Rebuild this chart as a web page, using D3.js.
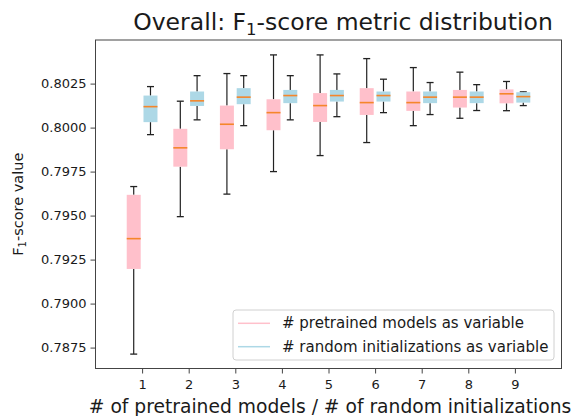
<!DOCTYPE html>
<html>
<head>
<meta charset="utf-8">
<script src="https://cdn.jsdelivr.net/npm/d3@7"></script>
<style>
  body { margin: 0; background: #fff; }
  text { font-family: "DejaVu Sans", sans-serif; fill: #1a1a1a; }
</style>
</head>
<body>
<script>
// number of pretrained models / random initializations
var positions = [1, 2, 3, 4, 5, 6, 7, 8, 9];

// # pretrained models as variable (pink)
var pinkLow  = [0.78713, 0.79494, 0.79622, 0.79750, 0.79841, 0.79915, 0.80011, 0.80053, 0.80096];
var pinkQ1   = [0.79197, 0.79778, 0.79877, 0.79985, 0.80032, 0.80072, 0.80095, 0.80114, 0.80138];
var pinkMed  = [0.79369, 0.79885, 0.80019, 0.80085, 0.80125, 0.80142, 0.80142, 0.80173, 0.80192];
var pinkQ3   = [0.79618, 0.79993, 0.80125, 0.80161, 0.80196, 0.80224, 0.80205, 0.80214, 0.80217];
var pinkHigh = [0.79665, 0.80150, 0.80307, 0.80413, 0.80413, 0.80392, 0.80341, 0.80315, 0.80262];

// # random initializations as variable (blue)
var blueLow  = [0.79960, 0.80044, 0.80011, 0.80044, 0.80062, 0.80085, 0.80074, 0.80097, 0.80125];
var blueQ1   = [0.80031, 0.80123, 0.80133, 0.80139, 0.80148, 0.80148, 0.80139, 0.80139, 0.80142];
var blueMed  = [0.80119, 0.80152, 0.80173, 0.80182, 0.80182, 0.80182, 0.80173, 0.80173, 0.80176];
var blueQ3   = [0.80182, 0.80205, 0.80224, 0.80214, 0.80214, 0.80205, 0.80205, 0.80205, 0.80201];
var blueHigh = [0.80233, 0.80295, 0.80295, 0.80295, 0.80305, 0.80275, 0.80256, 0.80244, 0.80203];

var yTicks = [0.7875, 0.7900, 0.7925, 0.7950, 0.7975, 0.8000, 0.8025];
var legendLabels = ["# pretrained models as variable", "# random initializations as variable"];

var width = 574, height = 416;
var margin = {top: 40, right: 12.5, bottom: 47.5, left: 95.5};

var svg = d3.select("body").append("svg")
  .attr("width", width)
  .attr("height", height);

var xScale = d3.scaleLinear()
  .domain([0, 10])
  .range([margin.left, width - margin.right]);

var yScale = d3.scaleLinear()
  .domain([0.786312, 0.804977])
  .range([height - margin.bottom, margin.top]);

function series(low, q1, med, q3, high, offset, color) {
  return positions.map(function(p, i) {
    return {pos: p + offset, low: low[i], q1: q1[i], med: med[i], q3: q3[i], high: high[i], color: color};
  });
}

var boxes = series(pinkLow, pinkQ1, pinkMed, pinkQ3, pinkHigh, -0.18, "pink")
  .concat(series(blueLow, blueQ1, blueMed, blueQ3, blueHigh, 0.18, "lightblue"));

var boxW = xScale(0.3) - xScale(0);

var g = svg.append("g");

var b = g.selectAll("g.box")
  .data(boxes)
  .enter()
  .append("g")
  .attr("class", "box");

// whiskers
b.append("line")
  .attr("x1", function(d) { return xScale(d.pos); })
  .attr("x2", function(d) { return xScale(d.pos); })
  .attr("y1", function(d) { return yScale(d.low); })
  .attr("y2", function(d) { return yScale(d.q1); })
  .attr("stroke", "#222").attr("stroke-width", 1.2);
b.append("line")
  .attr("x1", function(d) { return xScale(d.pos); })
  .attr("x2", function(d) { return xScale(d.pos); })
  .attr("y1", function(d) { return yScale(d.q3); })
  .attr("y2", function(d) { return yScale(d.high); })
  .attr("stroke", "#222").attr("stroke-width", 1.2);

// caps
["low", "high"].forEach(function(k) {
  b.append("line")
    .attr("x1", function(d) { return xScale(d.pos) - boxW / 4; })
    .attr("x2", function(d) { return xScale(d.pos) + boxW / 4; })
    .attr("y1", function(d) { return yScale(d[k]); })
    .attr("y2", function(d) { return yScale(d[k]); })
    .attr("stroke", "#222").attr("stroke-width", 1.3);
});

// boxes
b.append("rect")
  .attr("x", function(d) { return xScale(d.pos) - boxW / 2; })
  .attr("width", boxW)
  .attr("y", function(d) { return yScale(d.q3); })
  .attr("height", function(d) { return yScale(d.q1) - yScale(d.q3); })
  .attr("fill", function(d) { return d.color; });

// medians
b.append("line")
  .attr("x1", function(d) { return xScale(d.pos) - boxW / 2; })
  .attr("x2", function(d) { return xScale(d.pos) + boxW / 2; })
  .attr("y1", function(d) { return yScale(d.med); })
  .attr("y2", function(d) { return yScale(d.med); })
  .attr("stroke", "#f5862a").attr("stroke-width", 1.6);

// frame
svg.append("rect")
  .attr("x", margin.left)
  .attr("y", margin.top)
  .attr("width", width - margin.left - margin.right)
  .attr("height", height - margin.top - margin.bottom)
  .attr("fill", "none")
  .attr("stroke", "#444")
  .attr("stroke-width", 1);

// axes
var yAxis = svg.append("g")
  .attr("transform", "translate(" + margin.left + ",0)")
  .call(d3.axisLeft(yScale).tickValues(yTicks).tickFormat(d3.format(".4f")).tickSize(5).tickPadding(4));
var xAxis = svg.append("g")
  .attr("transform", "translate(0," + (height - margin.bottom) + ")")
  .call(d3.axisBottom(xScale).tickValues(positions).tickFormat(d3.format("d")).tickSize(5).tickPadding(6));

[yAxis, xAxis].forEach(function(ax) {
  ax.select(".domain").remove();
  ax.selectAll(".tick line").attr("stroke", "#444");
  ax.selectAll(".tick text")
    .style("font-family", "DejaVu Sans")
    .style("font-size", "13px")
    .attr("fill", "#1a1a1a");
});

// title
var title = svg.append("text")
  .attr("x", 343)
  .attr("y", 30)
  .attr("text-anchor", "middle")
  .style("font-size", "23.5px");
title.append("tspan").text("Overall: F");
title.append("tspan").attr("dy", 4.5).style("font-size", "16.5px").text("1");
title.append("tspan").attr("dy", -4.5).text("-score metric distribution");

// x label
svg.append("text")
  .attr("x", 330)
  .attr("y", 413)
  .attr("text-anchor", "middle")
  .style("font-size", "18.7px")
  .text("# of pretrained models / # of random initializations");

// y label
var yl = svg.append("text")
  .attr("transform", "translate(23," + ((margin.top + height - margin.bottom) / 2) + ") rotate(-90)")
  .attr("text-anchor", "middle")
  .style("font-size", "14.5px");
yl.append("tspan").text("F");
yl.append("tspan").attr("dy", 3).style("font-size", "10px").text("1");
yl.append("tspan").attr("dy", -3).text("-score value");

// legend
var leg = svg.append("g");
leg.append("rect")
  .attr("x", 233).attr("y", 310)
  .attr("width", 321).attr("height", 50)
  .attr("rx", 3)
  .attr("fill", "white").attr("fill-opacity", 0.8)
  .attr("stroke", "#d0d0d0");
var legColors = ["pink", "lightblue"];
legendLabels.forEach(function(lab, i) {
  var y = 323.3 + i * 23.4;
  leg.append("line")
    .attr("x1", 238).attr("x2", 270)
    .attr("y1", y).attr("y2", y)
    .attr("stroke", legColors[i]).attr("stroke-width", 1.5);
  leg.append("text")
    .attr("x", 282).attr("y", y + 5)
    .style("font-size", "15px")
    .text(lab);
});
</script>
</body>
</html>
